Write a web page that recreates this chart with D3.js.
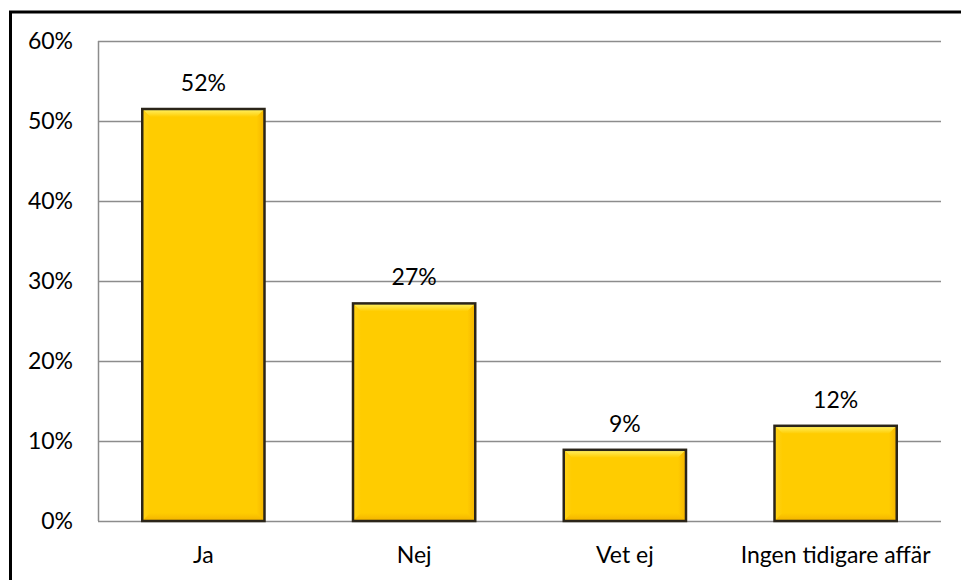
<!DOCTYPE html>
<html>
<head>
<meta charset="utf-8">
<script src="https://cdn.jsdelivr.net/npm/d3@7"></script>
<style>
  html, body { margin: 0; padding: 0; background: #fff; }
  svg { display: block; }
  text { font-family: Lato, "Open Sans", "Liberation Sans", sans-serif; fill: #000; }
</style>
</head>
<body>
<svg id="chart" width="961" height="580"></svg>
<script>
// Survey answers and their shares (percent)
const categories = ["Ja", "Nej", "Vet ej", "Ingen tidigare affär"];
const values = [51.5, 27.2, 8.9, 11.9];
const yTicks = [0, 10, 20, 30, 40, 50, 60];

const W = 961, H = 580;
const margin = { left: 98, right: 20, top: 41, bottom: 59 };
const fontSize = 23;
const svg = d3.select("#chart");

// Outer chart frame (only top/left visible inside the window)
svg.append("rect")
  .attr("x", 10.5).attr("y", 12)
  .attr("width", W + 20).attr("height", H + 20)
  .attr("fill", "none").attr("stroke", "#000").attr("stroke-width", 3);

const x = d3.scaleBand()
  .domain(categories)
  .range([margin.left, W - margin.right])
  .paddingInner(0.42).paddingOuter(0.21);

const y = d3.scaleLinear()
  .domain([0, 60])
  .range([H - margin.bottom, margin.top]);

// Gradients for the bevelled bar look
const defs = svg.append("defs");
function grad(id, x2, y2, c0, c1) {
  const g = defs.append("linearGradient").attr("id", id)
    .attr("x1", 0).attr("y1", 0).attr("x2", x2).attr("y2", y2);
  g.append("stop").attr("offset", 0).attr("stop-color", c0);
  g.append("stop").attr("offset", 1).attr("stop-color", c1);
}
grad("bevelTop", 0, 1, "#fff36a", "#ffcc00");
grad("bevelRight", 1, 0, "#ffcc00", "#f5b400");
grad("bevelLeft", 1, 0, "#ffd21a", "#ffcc00");
grad("bevelBottom", 0, 1, "#ffcc00", "#f2b200");

// Horizontal gridlines
svg.append("g")
  .selectAll("line")
  .data(yTicks)
  .join("line")
  .attr("x1", margin.left).attr("x2", W - margin.right)
  .attr("y1", d => Math.round(y(d)) + 0.5).attr("y2", d => Math.round(y(d)) + 0.5)
  .attr("stroke", "#8c8c8c").attr("stroke-width", 1.5);

// Vertical value axis line
svg.append("line")
  .attr("x1", margin.left + 0.5).attr("x2", margin.left + 0.5)
  .attr("y1", y(60)).attr("y2", y(0))
  .attr("stroke", "#8c8c8c").attr("stroke-width", 1.5);

// Y tick labels
svg.append("g")
  .selectAll("text")
  .data(yTicks)
  .join("text")
  .attr("x", 73).attr("y", d => y(d))
  .attr("dy", "0.36em")
  .attr("text-anchor", "end")
  .attr("font-size", fontSize)
  .text(d => d + "%");

// Bars
const bev = 8;
const bars = svg.append("g")
  .selectAll("g")
  .data(categories.map((c, i) => ({ c, v: values[i] })))
  .join("g");

bars.each(function(d) {
  const g = d3.select(this);
  const x0 = x(d.c), x1 = x0 + x.bandwidth();
  const y0 = y(d.v), y1 = y(0);
  g.append("rect").attr("x", x0).attr("y", y0)
    .attr("width", x1 - x0).attr("height", y1 - y0).attr("fill", "#ffcc00");
  const b = Math.min(bev, (y1 - y0) / 2);
  g.append("path").attr("fill", "url(#bevelTop)")
    .attr("d", `M${x0},${y0}L${x1},${y0}L${x1 - b},${y0 + b}L${x0 + b},${y0 + b}Z`);
  g.append("path").attr("fill", "url(#bevelRight)")
    .attr("d", `M${x1},${y0}L${x1},${y1}L${x1 - b},${y1 - b}L${x1 - b},${y0 + b}Z`);
  g.append("path").attr("fill", "url(#bevelLeft)")
    .attr("d", `M${x0},${y0}L${x0 + b},${y0 + b}L${x0 + b},${y1 - b}L${x0},${y1}Z`);
  g.append("path").attr("fill", "url(#bevelBottom)")
    .attr("d", `M${x0},${y1}L${x0 + b},${y1 - b}L${x1 - b},${y1 - b}L${x1},${y1}Z`);
  g.append("rect").attr("x", x0).attr("y", y0)
    .attr("width", x1 - x0).attr("height", y1 - y0)
    .attr("fill", "none").attr("stroke", "#2b2519").attr("stroke-width", 2.5);
});

// Value labels above bars
bars.append("text")
  .attr("x", d => x(d.c) + x.bandwidth() / 2)
  .attr("y", d => y(d.v) - 18)
  .attr("text-anchor", "middle")
  .attr("font-size", fontSize)
  .text(d => d3.format(".0f")(d.v) + "%");

// Category labels
svg.append("g")
  .selectAll("text")
  .data(categories)
  .join("text")
  .attr("x", d => x(d) + x.bandwidth() / 2)
  .attr("y", 563)
  .attr("text-anchor", "middle")
  .attr("font-size", fontSize)
  .text(d => d);
</script>
</body>
</html>
